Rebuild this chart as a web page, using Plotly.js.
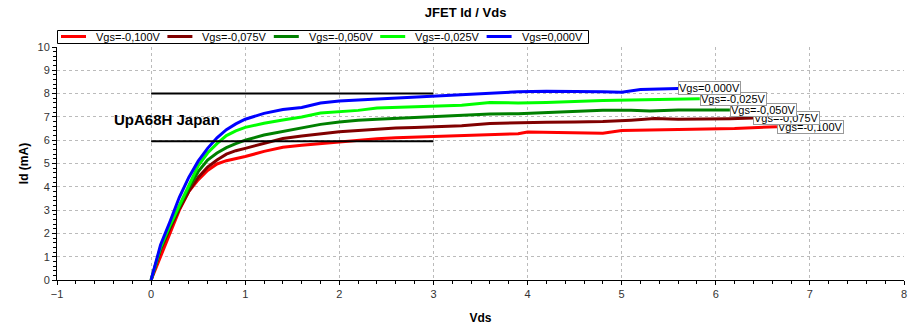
<!DOCTYPE html>
<html>
<head>
<meta charset="utf-8">
<script src="https://cdn.plot.ly/plotly-3.0.1.min.js"></script>
<style>html,body{margin:0;padding:0;background:#fff;}#chart{width:922px;height:333px;}</style>
</head>
<body>
<div id="chart"></div>
<script>
// Series names (Vgs)
const names = ["Vgs=-0,100V", "Vgs=-0,075V", "Vgs=-0,050V", "Vgs=-0,025V", "Vgs=0,000V"];
const colors = ["#ff0000", "#800000", "#008000", "#00ff00", "#0000ff"];

// Vds values (V) and Id values (mA) per series
const vdsM100 = [0, 0.1, 0.2, 0.3, 0.4, 0.5, 0.6, 0.7, 0.8, 0.9, 1.0, 1.2, 1.4, 1.6, 1.8, 2.0, 2.2, 2.4, 2.6, 2.8, 3.0, 3.3, 3.6, 3.9, 4.0, 4.4, 4.8, 5.0, 5.3, 5.6, 5.9, 6.2, 6.45, 6.65];
const idM100  = [0, 1.0, 2.0, 3.0, 3.8, 4.3, 4.7, 4.98, 5.12, 5.2, 5.3, 5.52, 5.7, 5.78, 5.85, 5.95, 6.02, 6.06, 6.1, 6.13, 6.16, 6.2, 6.26, 6.28, 6.35, 6.33, 6.3, 6.42, 6.44, 6.45, 6.45, 6.5, 6.55, 6.58];

const vdsM075 = [0, 0.1, 0.2, 0.3, 0.4, 0.5, 0.6, 0.7, 0.8, 0.9, 1.0, 1.2, 1.4, 1.6, 1.8, 2.0, 2.2, 2.4, 2.6, 2.8, 3.0, 3.3, 3.6, 3.9, 4.2, 4.5, 4.8, 5.1, 5.35, 5.6, 5.9, 6.15, 6.4];
const idM075  = [0, 1.3, 2.2, 3.05, 3.8, 4.4, 4.85, 5.15, 5.4, 5.55, 5.65, 5.87, 6.07, 6.18, 6.28, 6.36, 6.42, 6.48, 6.52, 6.55, 6.57, 6.62, 6.72, 6.76, 6.77, 6.78, 6.8, 6.86, 6.93, 6.9, 6.9, 6.92, 6.95];

const vdsM050 = [0, 0.1, 0.2, 0.3, 0.4, 0.5, 0.6, 0.7, 0.8, 0.9, 1.0, 1.2, 1.4, 1.6, 1.8, 2.0, 2.2, 2.4, 2.6, 2.8, 3.0, 3.3, 3.6, 3.9, 4.2, 4.5, 4.8, 5.1, 5.3, 5.6, 5.9, 6.15];
const idM050  = [0, 1.35, 2.3, 3.15, 3.95, 4.65, 5.15, 5.45, 5.68, 5.85, 6.0, 6.22, 6.38, 6.52, 6.68, 6.78, 6.86, 6.9, 6.94, 6.97, 7.0, 7.05, 7.12, 7.14, 7.18, 7.25, 7.29, 7.29, 7.25, 7.3, 7.3, 7.3];

const vdsM025 = [0, 0.1, 0.2, 0.3, 0.4, 0.5, 0.6, 0.7, 0.8, 0.9, 1.0, 1.2, 1.4, 1.6, 1.8, 2.0, 2.2, 2.4, 2.6, 2.8, 3.0, 3.3, 3.6, 3.9, 4.2, 4.5, 4.8, 5.1, 5.4, 5.83];
const idM025  = [0, 1.4, 2.35, 3.2, 4.0, 4.9, 5.45, 5.85, 6.2, 6.4, 6.55, 6.73, 6.87, 7.0, 7.17, 7.22, 7.28, 7.38, 7.4, 7.42, 7.45, 7.5, 7.62, 7.6, 7.62, 7.67, 7.7, 7.72, 7.75, 7.78];

const vds000 = [0, 0.1, 0.2, 0.3, 0.4, 0.5, 0.6, 0.7, 0.8, 0.9, 1.0, 1.2, 1.4, 1.6, 1.8, 2.0, 2.2, 2.4, 2.6, 2.8, 3.0, 3.3, 3.6, 3.9, 4.2, 4.5, 4.8, 5.0, 5.2, 5.4, 5.6];
const id000  = [0, 1.5, 2.5, 3.55, 4.4, 5.1, 5.65, 6.1, 6.45, 6.7, 6.9, 7.15, 7.32, 7.4, 7.6, 7.68, 7.72, 7.76, 7.82, 7.87, 7.9, 7.95, 8.03, 8.08, 8.1, 8.1, 8.08, 8.06, 8.18, 8.2, 8.22];

// Reference lines (horizontal markers)
const refLineX = [0, 3];
const refLineUpper = 8;
const refLineLower = 5.95;
const noteText = "UpA68H Japan";
const noteX = -0.42, noteY = 6.87;

const xs = [vdsM100, vdsM075, vdsM050, vdsM025, vds000];
const ys = [idM100, idM075, idM050, idM025, id000];

const W = 922, H = 333;
const M = {l: 57, r: 18, t: 47, b: 53};
const PW = W - M.l - M.r, PH = H - M.t - M.b;
const px2x = p => (p - M.l) / PW;          // pixel -> paper x
const py2y = p => (H - M.b - p) / PH;      // pixel -> paper y

const font = "Arial, 'Liberation Sans', sans-serif";
const traces = [];
for (let i = 0; i < names.length; i++) {
  traces.push({
    x: xs[i], y: ys[i], name: names[i], type: "scatter", mode: "lines",
    line: {color: colors[i], width: 3}
  });
}
traces.push({x: refLineX, y: [refLineUpper, refLineUpper], mode: "lines", showlegend: false,
  line: {color: "#000", width: 2}, hoverinfo: "skip"});
traces.push({x: refLineX, y: [refLineLower, refLineLower], mode: "lines", showlegend: false,
  line: {color: "#000", width: 2}, hoverinfo: "skip"});

const annotations = [];
const shapes = [];
for (let i = 0; i < names.length; i++) {
  const n = xs[i].length;
  annotations.push({
    x: xs[i][n - 1], y: ys[i][n - 1], xref: "x", yref: "y",
    text: names[i], showarrow: false, xanchor: "left", yanchor: "middle",
    bgcolor: "#fff", bordercolor: "#999", borderwidth: 1, borderpad: 0,
    font: {family: font, size: 11, color: "#000"}
  });
}
annotations.push({
  x: noteX, y: noteY, xref: "x", yref: "y", text: "<b>" + noteText + "</b>",
  showarrow: false, xanchor: "left", yanchor: "middle",
  font: {family: font, size: 15, color: "#000"}
});

// Custom compact legend box (as in the reference)
const legLeft = 57.5, legRight = 588.5, legTop = 30.5, legBottom = 43.5, legStep = 106.4;
shapes.push({type: "rect", xref: "paper", yref: "paper",
  x0: px2x(legLeft), x1: px2x(legRight), y0: py2y(legBottom), y1: py2y(legTop),
  line: {color: "#000", width: 1}, fillcolor: "#fff", layer: "above"});
for (let i = 0; i < names.length; i++) {
  const sx = 61 + i * legStep;
  shapes.push({type: "line", xref: "paper", yref: "paper",
    x0: px2x(sx), x1: px2x(sx + 25), y0: py2y(36.5), y1: py2y(36.5),
    line: {color: colors[i], width: 3}, layer: "above"});
  annotations.push({xref: "paper", yref: "paper", x: px2x(sx + 33), y: py2y(37),
    xanchor: "left", yanchor: "middle", text: names[i], showarrow: false,
    font: {family: font, size: 11, color: "#000"}});
}

const axisCommon = {
  showline: true, linecolor: "#000", linewidth: 1,
  showgrid: true, gridcolor: "#bbbbbb", griddash: "dot", gridwidth: 1,
  zeroline: false, ticks: "outside", ticklen: 4, tickcolor: "#000",
  tickfont: {family: font, size: 11, color: "#333"},
  minor: {dtick: 0.2, ticks: "outside", ticklen: 3, tickcolor: "#000", showgrid: false}
};

const layout = {
  width: W, height: H,
  margin: M,
  paper_bgcolor: "#fff", plot_bgcolor: "#fff",
  title: {text: "<b>JFET Id / Vds</b>", font: {family: font, size: 13, color: "#000"},
    x: 0.505, xanchor: "center", y: 0.962, yanchor: "middle"},
  xaxis: Object.assign({}, axisCommon, {range: [-1, 8], dtick: 1, tick0: 0,
    title: {text: "<b>Vds</b>", font: {family: font, size: 12, color: "#000"}, standoff: 14}}),
  yaxis: Object.assign({}, axisCommon, {range: [0, 10], dtick: 1, tick0: 0,
    title: {text: "<b>Id (mA)</b>", font: {family: font, size: 12, color: "#000"}, standoff: 6}}),
  showlegend: false,
  shapes: shapes,
  annotations: annotations
};

Plotly.newPlot("chart", traces, layout, {staticPlot: true, displayModeBar: false});
</script>
</body>
</html>
